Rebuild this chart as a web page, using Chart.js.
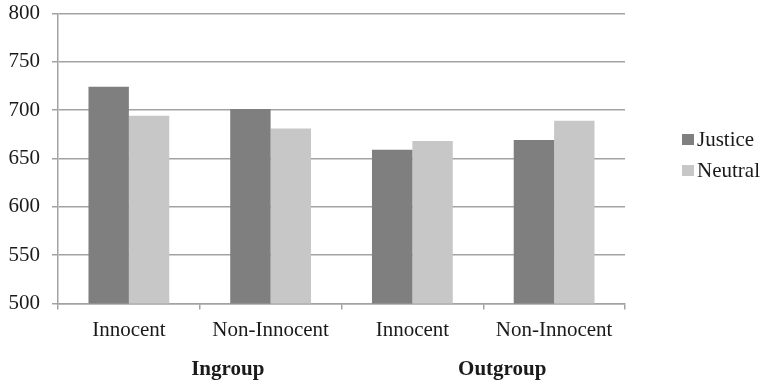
<!DOCTYPE html>
<html>
<head>
<meta charset="utf-8">
<script src="https://cdn.jsdelivr.net/npm/chart.js@4/dist/chart.umd.min.js"></script>
<style>
  html, body { margin: 0; padding: 0; background: #ffffff; }
  #wrap { width: 763px; height: 382px; position: relative; }
</style>
</head>
<body>
<div id="wrap"><canvas id="chart"></canvas></div>
<script>
// Response times by condition
const categories = ['Innocent', 'Non-Innocent', 'Innocent', 'Non-Innocent'];
const groups = ['Ingroup', 'Outgroup'];
const justice = [724, 701, 659, 669];
const neutral = [694, 681, 668, 689];
const yTicks = [500, 550, 600, 650, 700, 750, 800];

const serif = '"Liberation Serif", "Times New Roman", serif';
const gridColor = '#a3a3a3';
const textColor = '#1a1a1a';
const colors = { Justice: '#7f7f7f', Neutral: '#c6c7c6' };

// Legend at the right and bold group names under the category labels
const extras = {
  id: 'extras',
  afterDraw(chart) {
    const ctx = chart.ctx;
    const x = chart.scales.x;
    ctx.save();
    ctx.textBaseline = 'middle';
    ctx.textAlign = 'left';
    ctx.font = '21px ' + serif;
    chart.data.datasets.forEach((ds, i) => {
      const y = 139.5 + i * 31;
      ctx.fillStyle = ds.backgroundColor;
      ctx.fillRect(682, y - 5.5, 12, 11);
      ctx.fillStyle = textColor;
      ctx.fillText(ds.label, 697, y + 1);
    });
    ctx.font = 'bold 21px ' + serif;
    ctx.textAlign = 'center';
    ctx.fillStyle = textColor;
    groups.forEach((g, gi) => {
      const a = x.getPixelForValue(gi * 2);
      const b = x.getPixelForValue(gi * 2 + 1);
      const offset = gi === 0 ? 28 : 19;
      ctx.fillText(g, (a + b) / 2 + offset, 370);
    });
    ctx.restore();
  }
};

new Chart(document.getElementById('chart'), {
  type: 'bar',
  data: {
    labels: categories,
    datasets: [
      { label: 'Justice', data: justice, backgroundColor: colors.Justice },
      { label: 'Neutral', data: neutral, backgroundColor: colors.Neutral }
    ]
  },
  options: {
    responsive: true,
    maintainAspectRatio: false,
    animation: false,
    events: [],
    layout: { padding: { top: 13.3, right: 138, left: 0, bottom: 0 } },
    datasets: { bar: { categoryPercentage: 0.57, barPercentage: 1.0 } },
    plugins: { legend: { display: false }, tooltip: { enabled: false } },
    scales: {
      y: {
        min: 500, max: 800,
        afterFit(s) { s.width = 58; s.paddingTop = 0; s.paddingBottom = 0; },
        afterBuildTicks(s) { s.ticks = yTicks.map(v => ({ value: v })); },
        grid: { color: gridColor, lineWidth: 1.5, tickLength: 6 },
        border: { color: gridColor, width: 1.5 },
        ticks: { color: textColor, padding: 12, font: { family: serif, size: 21 } }
      },
      x: {
        afterFit(s) { s.height = 78.5; s.paddingLeft = 0; s.paddingRight = 0; },
        grid: { offset: true, drawOnChartArea: false, color: gridColor, lineWidth: 1.5, tickLength: 6 },
        border: { color: gridColor, width: 1.5 },
        ticks: { color: textColor, padding: 8, maxRotation: 0, autoSkip: false, font: { family: serif, size: 21 } }
      }
    }
  },
  plugins: [extras]
});
</script>
</body>
</html>
